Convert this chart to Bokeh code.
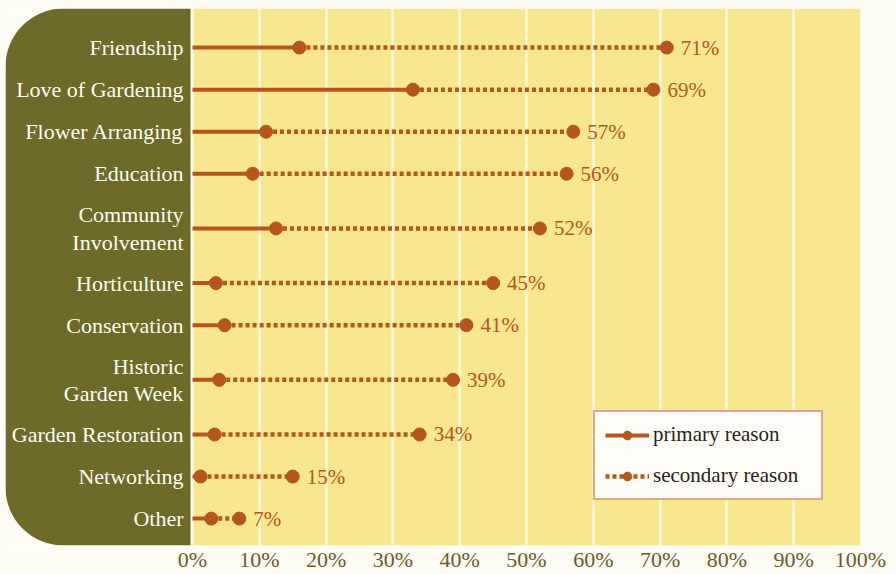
from bokeh.plotting import figure
from bokeh.models import (ColumnDataSource, Range1d, FixedTicker, BoxAnnotation,
                          Legend, LegendItem)
from bokeh.core.properties import value
from bokeh.embed import file_html
from bokeh.resources import INLINE

# ---- data ----
categories = ["Friendship", "Love of Gardening", "Flower Arranging", "Education",
              "Community\nInvolvement", "Horticulture", "Conservation",
              "Historic\nGarden Week", "Garden Restoration", "Networking", "Other"]
primary = [16, 33, 11, 9, 12.5, 3.5, 4.8, 4, 3.3, 1.2, 2.8]
secondary = [71, 69, 57, 56, 52, 45, 41, 39, 34, 15, 7]
x_ticks = [0, 10, 20, 30, 40, 50, 60, 70, 80, 90, 100]

# ---- row layout: two-line labels get more room ----
heights = [1 + 0.6 * c.count("\n") for c in categories]
pos = [0.0]
for i in range(1, len(categories)):
    pos.append(pos[-1] + (heights[i - 1] + heights[i]) / 2)

BROWN = "#B5561E"
OLIVE = "#6D6A2A"
YELLOW = "#F8E78F"
SERIF = value("Liberation Serif")

src = ColumnDataSource(dict(
    cat=categories, y=pos, zero=[0] * len(categories),
    p=primary, s=secondary, lbl=[f"{v}%" for v in secondary]))

p = figure(width=896, height=574,
           x_range=Range1d(-28, 100),
           y_range=Range1d(pos[-1] + 0.64, pos[0] - 0.93),
           y_axis_location=None, toolbar_location=None, output_backend="svg",
           min_border_left=5, min_border_right=36, min_border_top=8,
           min_border_bottom=29)
p.outline_line_color = None
p.border_fill_color = "#FDFDF6"
p.background_fill_color = "#FDFDF6"

# yellow plotting field
p.add_layout(BoxAnnotation(left=0, right=100, fill_color=YELLOW, fill_alpha=1,
                           line_color=None, level="image"))

# grid
p.xgrid.ticker = FixedTicker(ticks=x_ticks)
p.xgrid.grid_line_color = "#FFFBEA"
p.xgrid.grid_line_width = 2
p.ygrid.grid_line_color = None

# olive label panel with rounded left corners
p.add_layout(BoxAnnotation(right=-0.3, fill_color=OLIVE, fill_alpha=1,
                           line_color=None, level="underlay",
                           border_radius=dict(top_left=58, top_right=0,
                                              bottom_right=0, bottom_left=58)))

# x axis
p.xaxis.ticker = FixedTicker(ticks=x_ticks)
p.xaxis.major_label_overrides = {t: f"{t}%" for t in x_ticks}
p.xaxis.axis_line_color = None
p.xaxis.major_tick_line_color = None
p.xaxis.minor_tick_line_color = None
p.xaxis.major_tick_out = 0
p.xaxis.major_tick_in = 0
p.xaxis.minor_tick_out = 0
p.xaxis.major_label_standoff = 1
p.xaxis.major_label_text_font = "Liberation Serif"
p.xaxis.major_label_text_font_size = "22px"
p.xaxis.major_label_text_color = "#6E5B27"

# lines & dots
r_prim = p.segment(x0="zero", y0="y", x1="p", y1="y", source=src,
                   line_color=BROWN, line_width=4)
r_sec = p.segment(x0="p", y0="y", x1="s", y1="y", source=src,
                  line_color=BROWN, line_width=4.5, line_dash="4 3")
r_pdot = p.scatter(x="p", y="y", source=src, size=13, fill_color=BROWN,
                   line_color=BROWN)
r_sdot = p.scatter(x="s", y="y", source=src, size=13, fill_color=BROWN,
                   line_color=BROWN)

# category labels
p.text(x="zero", y="y", text="cat", source=src, x_offset=-9,
       text_align="right", text_baseline="middle", text_color="#FFFDF0",
       text_font=SERIF, text_font_size="22px", text_line_height=1.1)

# value labels
p.text(x="s", y="y", text="lbl", source=src, x_offset=14,
       text_align="left", text_baseline="middle", text_color=BROWN,
       text_font=SERIF, text_font_size="21px")

legend = Legend(items=[LegendItem(label="primary reason", renderers=[r_prim, r_pdot]),
                       LegendItem(label="secondary reason", renderers=[r_sec, r_sdot])],
                location=(588, 45))
legend.background_fill_color = "#FFFEF8"
legend.background_fill_alpha = 1
legend.border_line_color = BROWN
legend.border_line_width = 2
legend.label_text_font = "Liberation Serif"
legend.label_text_font_size = "21px"
legend.label_text_color = "#2B2118"
legend.glyph_width = 44
legend.glyph_height = 22
legend.spacing = 16
legend.padding = 10
legend.margin = 0
legend.label_standoff = 4
legend.label_width = 158
p.add_layout(legend, "center")

open("out.html", "w").write(file_html(p, INLINE))
